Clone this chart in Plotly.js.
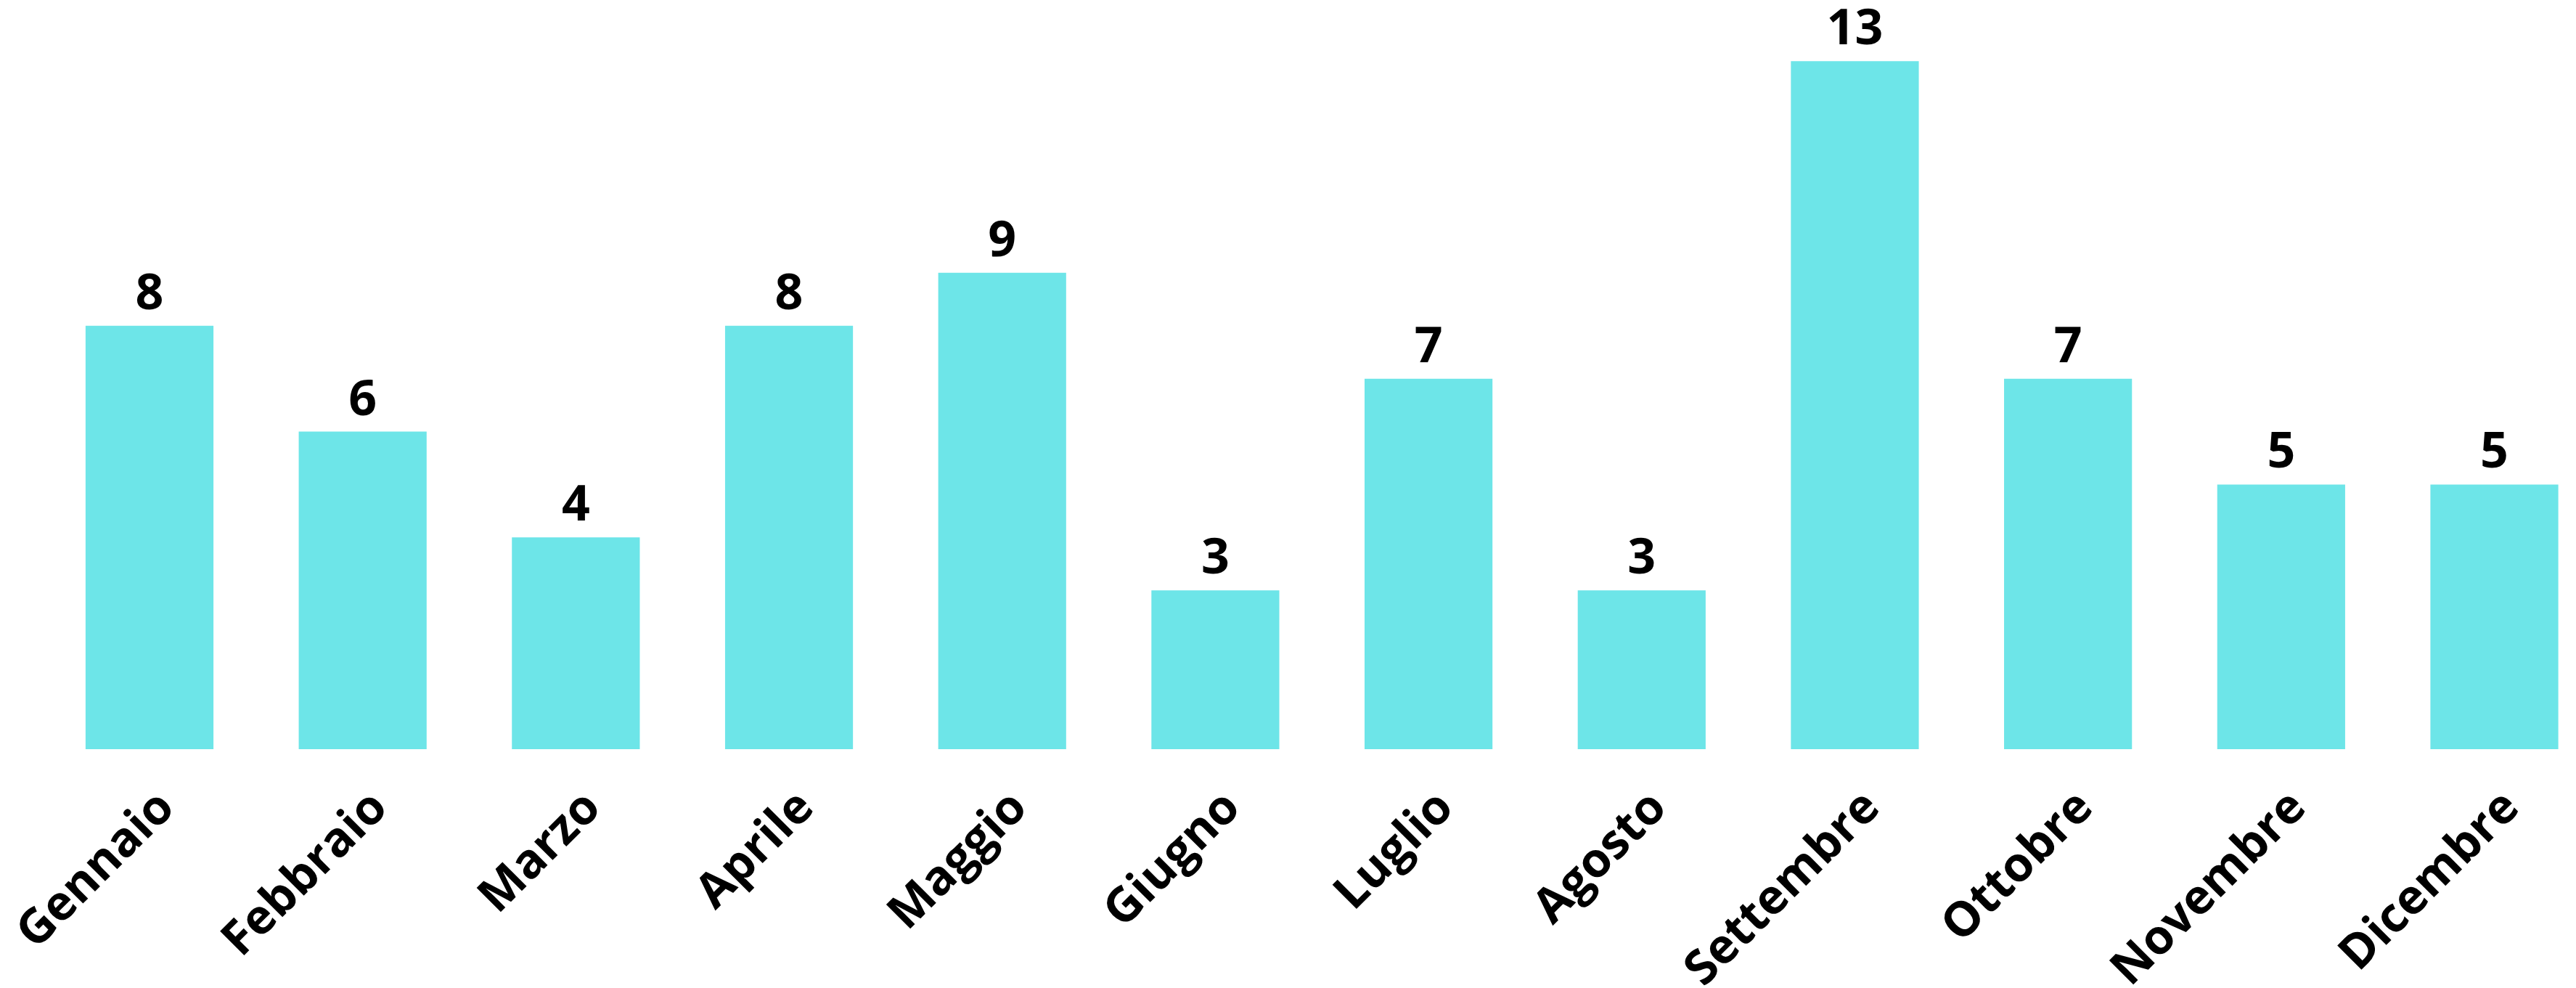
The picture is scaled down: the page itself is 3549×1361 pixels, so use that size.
<!DOCTYPE html>
<html>
<head>
<meta charset="utf-8">
<script src="https://cdn.plot.ly/plotly-3.0.1.min.js"></script>
<style>html,body{margin:0;padding:0;background:#fff;}#chart{width:3549px;height:1361px;}</style>
</head>
<body>
<div id="chart"></div>
<script>
const months = ["Gennaio","Febbraio","Marzo","Aprile","Maggio","Giugno","Luglio","Agosto","Settembre","Ottobre","Novembre","Dicembre"];
const counts = [8, 6, 4, 8, 9, 3, 7, 3, 13, 7, 5, 5];
const barColor = "#6de5e8";

const trace = {
  type: "bar",
  x: months,
  y: counts,
  text: counts.map(String),
  textposition: "outside",
  cliponaxis: false,
  constraintext: "none",
  textfont: {family: "Open Sans", size: 68, color: "#000", weight: 700},
  marker: {color: barColor},
  hoverinfo: "none"
};

const layout = {
  width: 3549,
  height: 1361,
  margin: {l: 0, r: 0, t: 0, b: 329, pad: 0},
  paper_bgcolor: "#fff",
  plot_bgcolor: "#fff",
  bargap: 0.4,
  showlegend: false,
  xaxis: {
    type: "category",
    range: [-0.7014, 11.383],
    tickangle: -45,
    tickfont: {family: "Open Sans", size: 66, color: "#000", weight: 700},
    showgrid: false, zeroline: false, showline: false,
    ticks: "outside", ticklen: 13, tickcolor: "rgba(0,0,0,0)",
    ticklabelshift: 14,
    automargin: false
  },
  yaxis: {
    range: [0, 14.155],
    visible: false,
    showgrid: false, zeroline: false
  }
};

Plotly.newPlot("chart", [trace], layout, {staticPlot: true, displayModeBar: false});
</script>
</body>
</html>
